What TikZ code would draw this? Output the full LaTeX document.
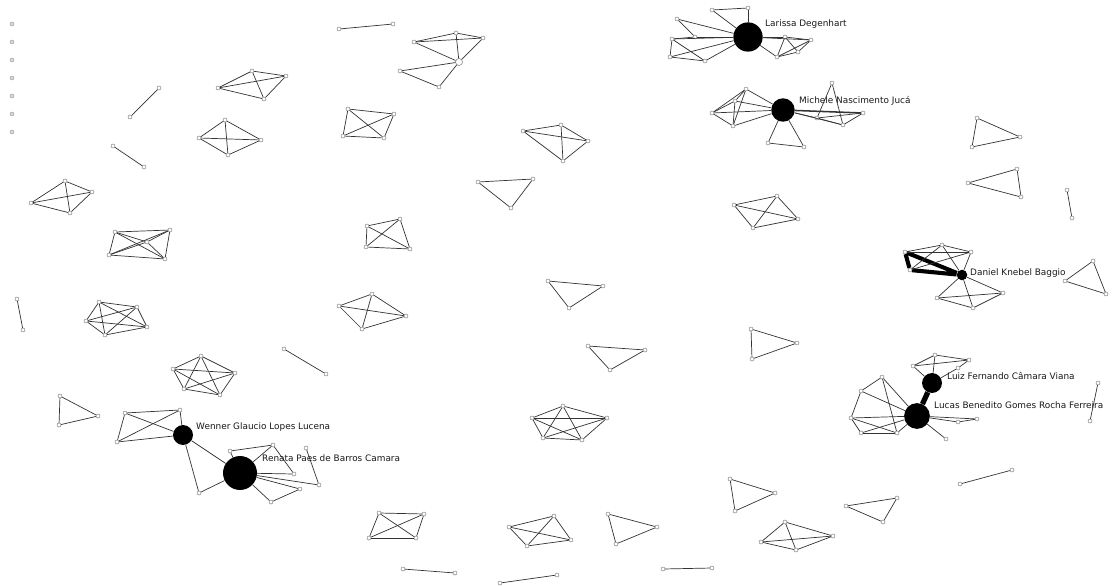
\documentclass[tikz,border=0pt]{standalone}
\usepackage{fontspec}
\setmainfont{DejaVu Sans}
\begin{document}
\begin{tikzpicture}[
  x=0.03cm, y=-0.03cm,
  v/.style={circle, draw=black!55, fill=white, inner sep=0pt, minimum size=3.4pt, line width=0.4pt},
  hub/.style={circle, fill=black, inner sep=0pt},
  e/.style={draw=black!80, line width=0.6pt},
  tie/.style={draw=black, line width=3.5pt},
  lbl/.style={anchor=west, inner sep=0pt, font=\fontsize{7.6}{9}\selectfont, text=black!90}
]
\useasboundingbox (0,0) rectangle (1112,586);

% isolates
\foreach \i/\y in {1/24,2/42,3/60,4/78,5/96,6/114,7/132}
  \node[v, draw=black!40, fill=black!15] (iso\i) at (12,\y) {};

% dyads
\node[v] (d1a) at (339,29) {};   \node[v] (d1b) at (393,24) {};
\node[v] (d2a) at (159,88) {};   \node[v] (d2b) at (130,117) {};
\node[v] (d3a) at (113,146) {};  \node[v] (d3b) at (144,167) {};
\node[v] (d4a) at (17,299) {};   \node[v] (d4b) at (23,330) {};
\node[v] (d5a) at (284,349) {};  \node[v] (d5b) at (326,374) {};
\node[v] (d6a) at (1067,190) {}; \node[v] (d6b) at (1072,218) {};
\node[v] (d7a) at (1098,383) {}; \node[v] (d7b) at (1090,421) {};
\node[v] (d8a) at (960,484) {};  \node[v] (d8b) at (1012,470) {};
\node[v] (d9a) at (403,569) {};  \node[v] (d9b) at (455,573) {};
\node[v] (d10a) at (500,583) {}; \node[v] (d10b) at (557,575) {};
\node[v] (d11a) at (663,569) {}; \node[v] (d11b) at (712,568) {};
\foreach \k in {1,...,11}
  \draw[e] (d\k a) -- (d\k b);

% triangles
\node[v] (t1a) at (478,182) {};  \node[v] (t1b) at (533,179) {};  \node[v] (t1c) at (511,208) {};
\node[v] (t2a) at (548,281) {};  \node[v] (t2b) at (603,286) {};  \node[v] (t2c) at (569,308) {};
\node[v] (t3a) at (588,346) {};  \node[v] (t3b) at (645,350) {};  \node[v] (t3c) at (610,370) {};
\node[v] (t4a) at (751,329) {};  \node[v] (t4b) at (797,343) {};  \node[v] (t4c) at (752,359) {};
\node[v] (t5a) at (977,118) {};  \node[v] (t5b) at (1020,137) {}; \node[v] (t5c) at (972,147) {};
\node[v] (t6a) at (968,183) {};  \node[v] (t6b) at (1017,169) {}; \node[v] (t6c) at (1021,197) {};
\node[v] (t7a) at (1093,261) {}; \node[v] (t7b) at (1065,281) {}; \node[v] (t7c) at (1106,294) {};
\node[v] (t8a) at (60,396) {};   \node[v] (t8b) at (98,416) {};   \node[v] (t8c) at (59,425) {};
\node[v] (t9a) at (608,514) {};  \node[v] (t9b) at (657,527) {};  \node[v] (t9c) at (616,544) {};
\node[v] (t10a) at (730,479) {}; \node[v] (t10b) at (775,493) {}; \node[v] (t10c) at (735,511) {};
\node[v] (t11a) at (846,506) {}; \node[v] (t11b) at (897,498) {}; \node[v] (t11c) at (883,522) {};
\foreach \k in {1,...,11}
  \foreach \i/\j in {a/b,b/c,a/c}
    \draw[e] (t\k\i) -- (t\k\j);

% four-cliques
\node[v] (q1a) at (218,88) {};   \node[v] (q1b) at (252,71) {};   \node[v] (q1c) at (286,76) {};   \node[v] (q1d) at (264,99) {};
\node[v] (q2a) at (199,138) {};  \node[v] (q2b) at (225,120) {};  \node[v] (q2c) at (261,140) {};  \node[v] (q2d) at (228,155) {};
\node[v] (q3a) at (31,203) {};   \node[v] (q3b) at (65,181) {};   \node[v] (q3c) at (92,192) {};   \node[v] (q3d) at (70,213) {};
\node[v] (q4a) at (348,109) {};  \node[v] (q4b) at (394,114) {};  \node[v] (q4c) at (384,138) {};  \node[v] (q4d) at (343,136) {};
\node[v] (q5a) at (523,131) {};  \node[v] (q5b) at (561,125) {};  \node[v] (q5c) at (588,141) {};  \node[v] (q5d) at (563,161) {};
\node[v] (q6a) at (367,226) {};  \node[v] (q6b) at (400,219) {};  \node[v] (q6c) at (410,249) {};  \node[v] (q6d) at (366,247) {};
\node[v] (q7a) at (339,306) {};  \node[v] (q7b) at (372,294) {};  \node[v] (q7c) at (406,316) {};  \node[v] (q7d) at (362,329) {};
\node[v] (q8a) at (734,205) {};  \node[v] (q8b) at (777,196) {};  \node[v] (q8c) at (798,219) {};  \node[v] (q8d) at (753,228) {};
\node[v] (q9a) at (379,513) {};  \node[v] (q9b) at (424,514) {};  \node[v] (q9c) at (416,538) {};  \node[v] (q9d) at (369,538) {};
\node[v] (q10a) at (509,527) {}; \node[v] (q10b) at (554,516) {}; \node[v] (q10c) at (571,540) {}; \node[v] (q10d) at (527,546) {};
\node[v] (q11a) at (761,542) {}; \node[v] (q11b) at (785,522) {}; \node[v] (q11c) at (833,536) {}; \node[v] (q11d) at (796,550) {};
\foreach \k in {1,...,11}
  \foreach \i/\j in {a/b,a/c,a/d,b/c,b/d,c/d}
    \draw[e] (q\k\i) -- (q\k\j);

% five-cliques
\node[v] (p1a) at (115,232) {}; \node[v] (p1b) at (170,230) {}; \node[v] (p1c) at (165,259) {}; \node[v] (p1d) at (109,255) {}; \node[v] (p1e) at (147,242) {};
\node[v] (p2a) at (99,302) {};  \node[v] (p2b) at (137,307) {}; \node[v] (p2c) at (147,327) {}; \node[v] (p2d) at (105,335) {}; \node[v] (p2e) at (86,321) {};
\node[v] (p3a) at (201,356) {}; \node[v] (p3b) at (235,373) {}; \node[v] (p3c) at (220,395) {}; \node[v] (p3d) at (184,389) {}; \node[v] (p3e) at (173,369) {};
\node[v] (p4a) at (532,418) {}; \node[v] (p4b) at (563,406) {}; \node[v] (p4c) at (607,418) {}; \node[v] (p4d) at (582,440) {}; \node[v] (p4e) at (543,438) {};
\foreach \k in {1,...,4}
  \foreach \i/\j in {a/b,a/c,a/d,a/e,b/c,b/d,b/e,c/d,c/e,d/e}
    \draw[e] (p\k\i) -- (p\k\j);

% small group with open hub
\node[v] (c1) at (414,42) {}; \node[v] (c2) at (456,33) {}; \node[v] (c3) at (483,38) {};
\node[v, minimum size=6pt] (c4) at (459,62) {};
\node[v] (c5) at (400,71) {}; \node[v] (c6) at (439,87) {};
\foreach \i/\j in {1/2,1/3,1/4,2/3,2/4,3/4,5/4,5/6,6/4}
  \draw[e] (c\i) -- (c\j);

% Larissa
\node[hub, minimum size=25pt] (lar) at (748,37) {};
\node[v] (la1) at (712,10) {};  \node[v] (la2) at (748,8) {};   \node[v] (la3) at (677,19) {};
\node[v] (la4) at (695,37) {};  \node[v] (la5) at (672,39) {};  \node[v] (la6) at (670,57) {};
\node[v] (la7) at (705,61) {};  \node[v] (la8) at (785,37) {};  \node[v] (la9) at (811,40) {};
\node[v] (la10) at (798,52) {}; \node[v] (la11) at (777,57) {};
\foreach \i in {1,2,3,4,5,6,7,8,9,11}
  \draw[e] (lar) -- (la\i);
\foreach \i/\j in {1/2,3/4,5/6,5/7,6/7,4/5,8/9,8/11,9/11,8/10,10/11,9/10}
  \draw[e] (la\i) -- (la\j);
\node[lbl] (larlbl) at (765,24) {Larissa Degenhart};

% Michele
\node[hub, minimum size=20pt] (mic) at (783,110) {};
\node[v] (mi1) at (746,89) {};  \node[v] (mi2) at (712,113) {}; \node[v] (mi3) at (733,126) {};
\node[v] (mi4) at (735,101) {}; \node[v] (mi5) at (768,143) {}; \node[v] (mi6) at (804,147) {};
\node[v] (mi7) at (832,83) {};  \node[v] (mi8) at (863,113) {}; \node[v] (mi9) at (843,125) {};
\node[v] (mi10) at (817,118) {};
\foreach \i in {1,2,3,4,5,6,9,10}
  \draw[e] (mic) -- (mi\i);
\draw[e, line width=1.3pt] (mic) -- (mi8);
\foreach \i/\j in {1/2,2/3,1/3,4/2,4/3,1/4,5/6,7/10,7/9,9/8,10/8,10/9}
  \draw[e] (mi\i) -- (mi\j);
\node[lbl] (miclbl) at (799,101) {Michele Nascimento Jucá};

% Daniel
\node[hub, minimum size=9pt] (dan) at (962,275) {};
\node[v] (da1) at (905,252) {}; \node[v] (da2) at (910,270) {}; \node[v] (da3) at (942,245) {};
\node[v] (da4) at (971,252) {}; \node[v] (da5) at (937,298) {}; \node[v] (da6) at (1003,293) {};
\node[v] (da7) at (973,308) {};
\draw[tie] (dan) -- (da1) -- (da2) -- (dan);
\foreach \i/\j in {1/3,1/4,3/4,2/3,2/4,5/6,5/7,6/7}
  \draw[e] (da\i) -- (da\j);
\foreach \i in {3,4,5,6,7}
  \draw[e] (dan) -- (da\i);
\node[lbl] (danlbl) at (970,273) {Daniel Knebel Baggio};

% Luiz and Lucas
\node[hub, minimum size=17pt] (lui) at (932,383) {};
\node[hub, minimum size=22pt] (luc) at (917,416) {};
\draw[tie, line width=4.5pt] (lui) -- (luc);
\node[v] (lu1) at (913,366) {}; \node[v] (lu2) at (935,355) {}; \node[v] (lu3) at (969,360) {};
\node[v] (lu4) at (958,368) {};
\foreach \i/\j in {1/2,2/3,1/3,4/3}
  \draw[e] (lu\i) -- (lu\j);
\foreach \i in {1,2,4}
  \draw[e] (lui) -- (lu\i);
\node[v] (lc1) at (882,377) {}; \node[v] (lc2) at (861,391) {}; \node[v] (lc3) at (851,418) {};
\node[v] (lc4) at (861,433) {}; \node[v] (lc5) at (897,433) {}; \node[v] (lc6) at (946,439) {};
\node[v] (lc7) at (958,422) {}; \node[v] (lc8) at (977,419) {};
\foreach \i/\j in {1/2,1/5,3/4,3/5,4/5,7/8,2/3}
  \draw[e] (lc\i) -- (lc\j);
\foreach \i in {1,2,3,4,5,6,7,8}
  \draw[e] (luc) -- (lc\i);
\node[lbl] (luilbl) at (947,376) {Luiz Fernando Câmara Viana};
\node[lbl] (luclbl) at (934,405) {Lucas Benedito Gomes Rocha Ferreira};

% Wenner and Renata
\node[hub, minimum size=17pt] (wen) at (183,435) {};
\node[hub, minimum size=29pt] (ren) at (240,473) {};
\node[v] (we1) at (125,413) {}; \node[v] (we2) at (180,410) {}; \node[v] (we3) at (117,442) {};
\node[v] (we4) at (199,493) {};
\foreach \i/\j in {1/2,1/3,2/3}
  \draw[e] (we\i) -- (we\j);
\foreach \i in {1,2,3,4}
  \draw[e] (wen) -- (we\i);
\draw[e] (wen) -- (ren);
\draw[e] (we4) -- (ren);
\node[v] (re1) at (230,451) {}; \node[v] (re2) at (273,445) {}; \node[v] (re3) at (306,448) {};
\node[v] (re4) at (294,474) {}; \node[v] (re5) at (319,485) {}; \node[v] (re6) at (300,489) {};
\node[v] (re7) at (271,502) {};
\foreach \i in {1,2,4,5,6,7}
  \draw[e] (ren) -- (re\i);
\foreach \i/\j in {1/2,7/6,3/5,2/4}
  \draw[e] (re\i) -- (re\j);
\node[lbl] (wenlbl) at (196,427) {Wenner Glaucio Lopes Lucena};
\node[lbl] (renlbl) at (262,458) {Renata Paes de Barros Camara};

\end{tikzpicture}
\end{document}
